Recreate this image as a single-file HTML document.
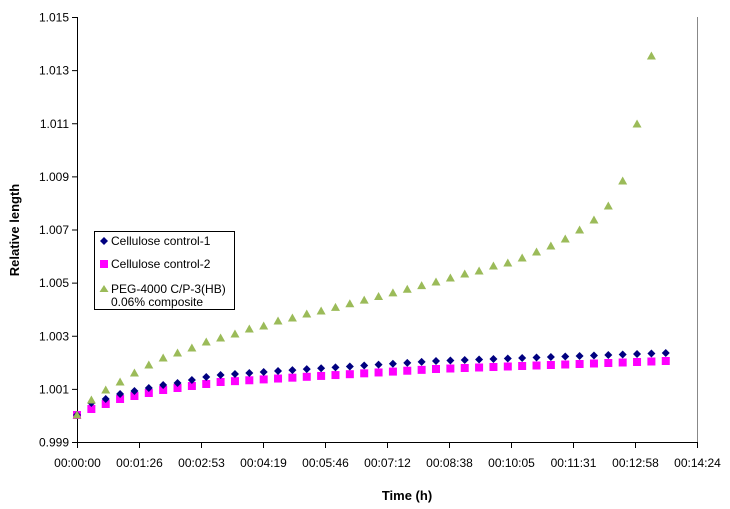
<!DOCTYPE html>
<html><head><meta charset="utf-8"><style>
body{margin:0;background:#fff;}
svg{display:block;font-family:"Liberation Sans",Arial,sans-serif;}
</style></head><body>
<svg id="s" width="730" height="509" xmlns="http://www.w3.org/2000/svg">
<rect width="730" height="509" fill="#fff"/>
<line x1="697.5" y1="17" x2="697.5" y2="442" stroke="#888" stroke-width="1"/>
<line x1="77.5" y1="17" x2="77.5" y2="442" stroke="#000"/>
<line x1="77.5" y1="442.5" x2="697.5" y2="442.5" stroke="#000"/>
<g id="ax" font-size="12" fill="#000"></g>
<g id="pts"></g>
<text x="19" y="230" font-size="13" font-weight="bold" transform="rotate(-90 19 230)" text-anchor="middle">Relative length</text>
<text x="407" y="500" font-size="13" font-weight="bold" text-anchor="middle">Time (h)</text>
<rect x="94.5" y="231.5" width="140" height="78" fill="#fff" stroke="#000"/>
<path d="M104,237 L108,241 L104,245 L100,241Z" fill="#000080"/>
<text x="111" y="245" font-size="12">Cellulose control-1</text>
<rect x="100" y="260" width="8" height="8" fill="#ff00ff"/>
<text x="111" y="268" font-size="12">Cellulose control-2</text>
<path d="M104,285 L108.5,292 L99.5,292Z" fill="#9bbb59"/>
<text x="111" y="293" font-size="12">PEG-4000 C/P-3(HB)</text>
<text x="111" y="306" font-size="12">0.06% composite</text>
</svg>
<script>
var ns="http://www.w3.org/2000/svg",ax=document.getElementById("ax"),pts=document.getElementById("pts");
function el(t,a,p,txt){var e=document.createElementNS(ns,t);for(var k in a)e.setAttribute(k,a[k]);if(txt)e.textContent=txt;p.appendChild(e);}
var yl=["0.999","1.001","1.003","1.005","1.007","1.009","1.011","1.013","1.015"];
for(var i=0;i<9;i++){var y=442-i*53.125;el("line",{x1:72,x2:77.5,y1:y+.5,y2:y+.5,stroke:"#000"},ax);el("text",{x:69,y:y+4.5,"text-anchor":"end"},ax,yl[i]);}
var xl=["00:00:00","00:01:26","00:02:53","00:04:19","00:05:46","00:07:12","00:08:38","00:10:05","00:11:31","00:12:58","00:14:24"];
for(var i=0;i<11;i++){var x=77.5+i*62;el("line",{x1:x,x2:x,y1:442,y2:448,stroke:"#000"},ax);el("text",{x:x,y:467,"text-anchor":"middle"},ax,xl[i]);}
function interp(a,n){var r=[];for(var i=0;i<n;i++){for(var j=0;j<a.length-1;j++){if(i>=a[j][0]&&i<=a[j+1][0]){var t=(i-a[j][0])/(a[j+1][0]-a[j][0]);r.push(a[j][1]+t*(a[j+1][1]-a[j][1]));break;}}}return r;}
var tri=interp([[0,415],[1,400],[2,390],[3,382],[4,373],[5,365],[6,358],[7,353],[8,348],[9,342],[10,338],[11,334],[12,329],[13,326],[14,321],[15,318],[16,314],[17,311],[25,282],[26,278],[27,274],[28,271],[29,266],[30,263],[31,258],[32,252],[33,246],[34,239],[35,230],[36,220],[37,206],[38,181],[39,124],[40,56]],41);
var dia=interp([[0,415],[1,403],[2,399],[3,394],[4,391],[5,388],[6,385],[7,383],[8,380],[9,377],[10,375],[14,371],[25,361],[41,353]],42);
var sq=interp([[0,415],[1,409],[2,404],[3,399],[4,396],[5,393],[6,390],[7,388],[8,386],[9,384],[10,382],[25,369],[41,361]],42);
var dx=14.36;
for(var i=0;i<42;i++){var x=77+i*dx;el("rect",{x:x-4,y:sq[i]-4,width:8,height:8,fill:"#ff00ff"},pts);}
for(var i=0;i<42;i++){var x=77+i*dx,y=dia[i];el("path",{d:"M"+x+","+(y-4)+" L"+(x+4)+","+y+" L"+x+","+(y+4)+" L"+(x-4)+","+y+"Z",fill:"#000080"},pts);}
for(var i=0;i<41;i++){var x=77+i*dx,y=tri[i];el("path",{d:"M"+x+","+(y-4.5)+" L"+(x+4.5)+","+(y+3.5)+" L"+(x-4.5)+","+(y+3.5)+"Z",fill:"#9bbb59"},pts);}
</script>
</body></html>
